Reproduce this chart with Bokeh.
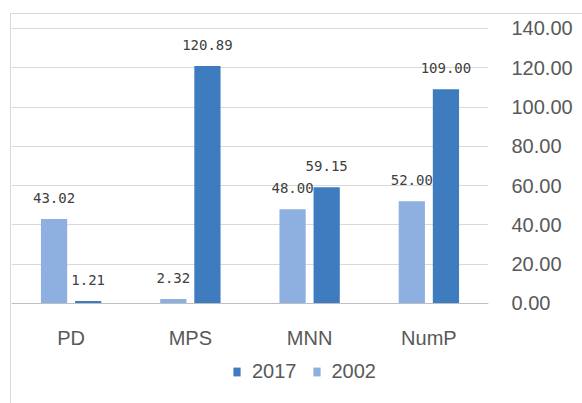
from bokeh.plotting import figure
from bokeh.models import (FactorRange, Range1d, Legend, LegendItem, ColumnDataSource,
                          FixedTicker, NumeralTickFormatter)
from bokeh.transform import dodge
from bokeh.core.properties import value
from bokeh.embed import file_html
from bokeh.resources import INLINE

categories = ["PD", "MPS", "MNN", "NumP"]
v2002 = [43.02, 2.32, 48.00, 52.00]
v2017 = [1.21, 120.89, 59.15, 109.00]
y_ticks = [0, 20, 40, 60, 80, 100, 120, 140]
series_names = ["2017", "2002"]

C17 = "#3F7CBF"
C02 = "#8EB0E0"

src = ColumnDataSource(dict(
    cat=categories,
    v2002=v2002,
    v2017=v2017,
    l2002=[f"{v:.2f}" for v in v2002],
    l2017=[f"{v:.2f}" for v in v2017],
))

p = figure(width=582, height=403,
           x_range=FactorRange(factors=categories, range_padding=0),
           y_range=Range1d(-50.9, 147.6),
           output_backend="svg", toolbar_location=None,
           y_axis_location="right",
           min_border_left=11, min_border_top=13, min_border_right=94, min_border_bottom=0)

p.border_fill_color = None
p.background_fill_color = None
p.outline_line_color = None
p.styles = {
    "background-color": "white",
    "background-image": "linear-gradient(#d9d9d9,#d9d9d9), linear-gradient(#d9d9d9,#d9d9d9)",
    "background-position": "10px 13px, 10px 13px",
    "background-size": "1px 400px, 580px 1px",
    "background-repeat": "no-repeat, no-repeat",
}

off = 0.143
w = 0.22
r02 = p.vbar(x=dodge("cat", -off, range=p.x_range), top="v2002", width=w, source=src,
             fill_color=C02, line_color=None)
r17 = p.vbar(x=dodge("cat", off, range=p.x_range), top="v2017", width=w, source=src,
             fill_color=C17, line_color=None)

for xo, col in [(-off, "l2002"), (off, "l2017")]:
    yc = "v2002" if col == "l2002" else "v2017"
    p.text(x=dodge("cat", xo, range=p.x_range), y=yc, text=col, source=src,
           y_offset=-21, text_align="center", text_baseline="middle",
           text_font=value("DejaVu Sans Mono"), text_font_size="14px", text_color="#404040")

p.xgrid.grid_line_color = None
p.ygrid.grid_line_color = "#d9d9d9"
p.ygrid.ticker = FixedTicker(ticks=y_ticks)

ya = p.yaxis[0]
ya.ticker = FixedTicker(ticks=y_ticks)
ya.formatter = NumeralTickFormatter(format="0.00")
ya.axis_line_color = None
ya.major_tick_line_color = None
ya.minor_tick_line_color = None
ya.major_label_standoff = 17
ya.major_label_text_font = "Liberation Sans"
ya.major_label_text_font_size = "20px"
ya.major_label_text_color = "#595959"

xa = p.xaxis[0]
xa.fixed_location = 0
xa.axis_line_color = "#bfbfbf"
xa.major_tick_line_color = None
xa.minor_tick_line_color = None
xa.major_label_standoff = 18
xa.major_label_text_font = "Liberation Sans"
xa.major_label_text_font_size = "20px"
xa.major_label_text_color = "#595959"

legend = Legend(items=[LegendItem(label=series_names[0], renderers=[r17]),
                       LegendItem(label=series_names[1], renderers=[r02])],
                orientation="horizontal", location=(221, 20),
                padding=0, margin=0, spacing=15,
                glyph_width=9, glyph_height=11, label_standoff=11,
                label_text_font="Liberation Sans", label_text_font_size="20px",
                label_text_color="#595959",
                border_line_color=None, background_fill_alpha=0)
p.add_layout(legend, "center")

open("out.html", "w").write(file_html(p, INLINE))
